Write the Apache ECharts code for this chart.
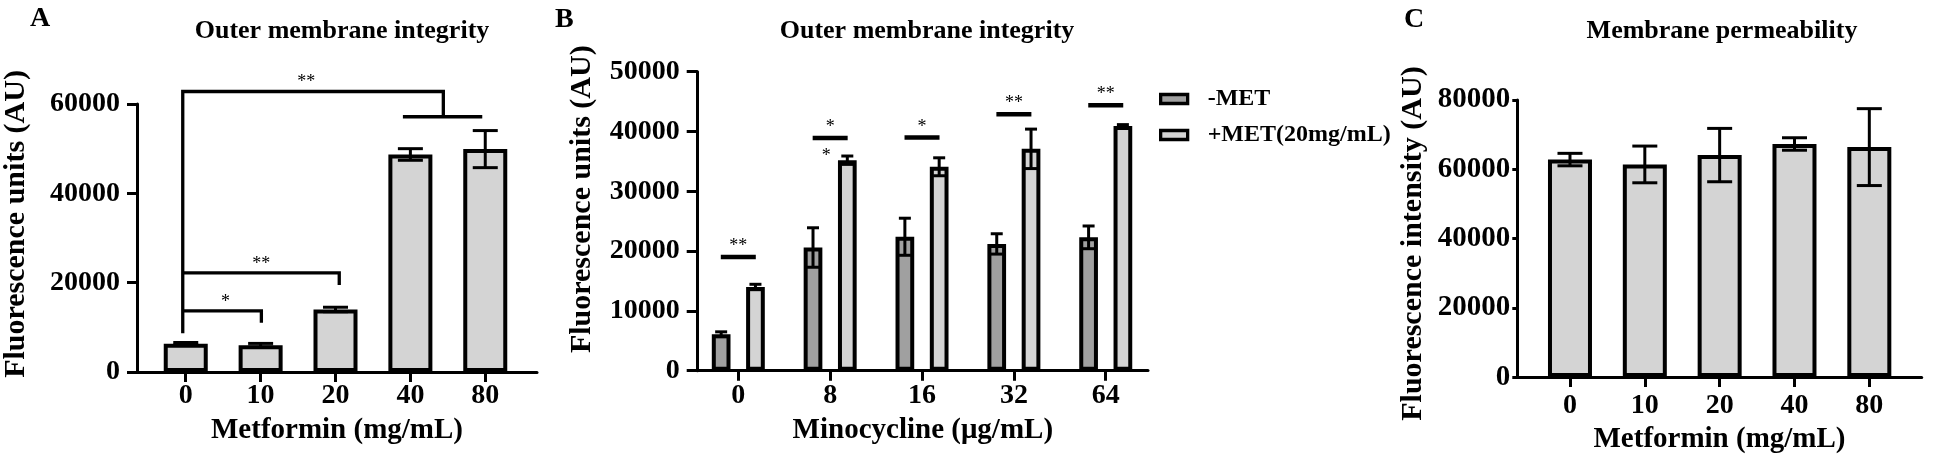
<!DOCTYPE html>
<html><head><meta charset="utf-8">
<script src="https://cdn.jsdelivr.net/npm/echarts@6/dist/echarts.min.js"></script>
<style>html,body{margin:0;padding:0;background:#fff}#c{width:1944px;height:459px}</style>
</head><body><div id="c"></div><script>
// ---------- data ----------
const catsA = ['0', '10', '20', '40', '80'];
const meanA = [6300, 6000, 14000, 48700, 49900];
const errA  = [300, 400, 500, 1300, 4150];

const catsB = ['0', '8', '16', '32', '64'];
const namesB = ['-MET', '+MET(20mg/mL)'];
const meanBminus = [6100, 20600, 22400, 21200, 22300];
const errBminus  = [400, 3300, 3100, 1700, 1900];
const meanBplus  = [14000, 35200, 34100, 37100, 40900];
const errBplus   = [450, 700, 1500, 3300, 250];

const catsC = ['0', '10', '20', '40', '80'];
const meanC = [62800, 61400, 64100, 67300, 66400];
const errC  = [1800, 5300, 7700, 1800, 11100];

// significance brackets in panel A: [fromIdx, toIdx, level, leftDrop, rightDrop, labelIdx]
const sigA = [[-0.04, 1.01, 13700, 13700, 11000, 0.53], [-0.04, 2.05, 22200, 22200, 19500, 1.01], [-0.04, 3.44, 62800, 8700, 57150, 1.61]];
const sigALabels = ['*', '**', '**'];
const sigASub = [[2.9, 3.96, 57150]];
// significance lines in panel B (level per category)
const sigB = [19000, 38900, 39000, 42900, 44400];
const sigBLabels = ['**', '*', '*', '**', '**'];
const sigBBelow = [[1, '*']];

const titles = ['Outer membrane integrity', 'Outer membrane integrity', 'Membrane permeability'];
const panelLetters = ['A', 'B', 'C'];

// ---------- styling ----------
const FF = "'Liberation Serif', 'Times New Roman', serif";
const BLACK = '#000';
const LIGHT = '#d4d4d4';
const DARK = '#a0a0a0';

const chart = echarts.init(document.getElementById('c'), null, {renderer: 'canvas'});

function xAxis(gi, min, max, cats, name, labelMargin, nameGap) {
  const idx = cats.map((_, i) => i);
  return {
    type: 'value', gridIndex: gi, min: min, max: max, position: 'bottom',
    axisLine: {show: true, onZero: false, lineStyle: {color: BLACK, width: 3}},
    axisTick: {show: true, customValues: idx, length: 10, lineStyle: {color: BLACK, width: 3}},
    axisLabel: {customValues: idx, formatter: v => cats[Math.round(v)], color: BLACK, fontFamily: FF,
      fontWeight: 'bold', fontSize: 28, margin: labelMargin},
    splitLine: {show: false},
    name: name, nameLocation: 'middle', nameGap: nameGap,
    nameTextStyle: {color: BLACK, fontFamily: FF, fontWeight: 'bold', fontSize: 29}
  };
}
function yAxis(gi, max, interval, name, nameGap, pad, tickLen, labelMargin, labelSize) {
  return {
    type: 'value', gridIndex: gi, min: 0, max: max, interval: interval, position: 'left',
    axisLine: {show: true, onZero: false, lineStyle: {color: BLACK, width: 3}},
    axisTick: {show: true, length: tickLen, lineStyle: {color: BLACK, width: 3}},
    axisLabel: {color: BLACK, fontFamily: FF, fontWeight: 'bold', fontSize: labelSize, margin: labelMargin,
      formatter: v => String(v)},
    splitLine: {show: false},
    name: name, nameLocation: 'middle', nameGap: nameGap,
    nameTextStyle: {color: BLACK, fontFamily: FF, fontWeight: 'bold', fontSize: 30, padding: pad}
  };
}
function errorSeries(axisIdx, means, errs, offset, capW) {
  return {
    type: 'custom', xAxisIndex: axisIdx, yAxisIndex: axisIdx, z: 5, silent: true,
    data: means.map((m, i) => [i, m - errs[i], m + errs[i]]),
    encode: {x: 0, y: [1, 2]},
    renderItem: function (params, api) {
      const lo = api.coord([api.value(0), api.value(1)]);
      const hi = api.coord([api.value(0), api.value(2)]);
      const cx = lo[0] + offset, h = capW / 2;
      const st = {stroke: BLACK, lineWidth: 3};
      return {type: 'group', children: [
        {type: 'line', shape: {x1: cx, y1: lo[1], x2: cx, y2: hi[1]}, style: st},
        {type: 'line', shape: {x1: cx - h, y1: hi[1], x2: cx + h, y2: hi[1]}, style: st},
        {type: 'line', shape: {x1: cx - h, y1: lo[1], x2: cx + h, y2: lo[1]}, style: st}
      ]};
    }
  };
}
const starStyle = {fill: BLACK, fontFamily: FF, fontSize: 18, align: 'center', verticalAlign: 'middle'};

const barWB = 18.7, gapB = 15.6;
const offB = (barWB + gapB) / 2;

const option = {
  backgroundColor: '#fff',
  animation: false,
  title: [
    {text: titles[0], left: 337, top: 13, textAlign: 'center', textStyle: {fontFamily: FF, fontWeight: 'bold', fontSize: 26, color: BLACK}},
    {text: titles[1], left: 922, top: 13, textAlign: 'center', textStyle: {fontFamily: FF, fontWeight: 'bold', fontSize: 26, color: BLACK}},
    {text: titles[2], left: 1717, top: 13, textAlign: 'center', textStyle: {fontFamily: FF, fontWeight: 'bold', fontSize: 26, color: BLACK}},
    {text: panelLetters[0], left: 25, top: 0, textStyle: {fontFamily: FF, fontWeight: 'bold', fontSize: 28, color: BLACK}},
    {text: panelLetters[1], left: 550, top: 1, textStyle: {fontFamily: FF, fontWeight: 'bold', fontSize: 28, color: BLACK}},
    {text: panelLetters[2], left: 1399, top: 1, textStyle: {fontFamily: FF, fontWeight: 'bold', fontSize: 28, color: BLACK}}
  ],
  legend: {
    data: namesB, orient: 'vertical', left: 1154, top: 82, icon: 'rect',
    itemWidth: 27, itemHeight: 9, itemGap: 12,
    itemStyle: {borderColor: BLACK, borderWidth: 3.3},
    textStyle: {fontFamily: FF, fontWeight: 'bold', fontSize: 24, color: BLACK, padding: [0, 0, 0, 15]}
  },
  grid: [
    {left: 135, top: 104, width: 402, height: 268},
    {left: 697.7, top: 71.7, width: 450.3, height: 299},
    {left: 1517.3, top: 100, width: 404.4, height: 277.7}
  ],
  xAxis: [
    xAxis(0, -0.651, 4.691, catsA, 'Metformin (mg/mL)', 10, 44),
    xAxis(1, -0.442, 4.46, catsB, 'Minocycline (μg/mL)', 11, 45),
    xAxis(2, -0.704, 4.70, catsC, 'Metformin (mg/mL)', 15, 47)
  ],
  yAxis: [
    yAxis(0, 60000, 20000, 'Fluorescence units (AU)', 106, [0, 0, 0, 28], 10, 17, 28),
    yAxis(1, 50000, 10000, 'Fluorescence units (AU)', 100, [0, 0, 0, 44], 11, 18, 28),
    yAxis(2, 80000, 20000, 'Fluorescence intensity (AU)', 89, [0, 10, 0, 0], 5, 7, 29)
  ],
  series: [
    {type: 'bar', name: 'A', xAxisIndex: 0, yAxisIndex: 0, barWidth: 44,
      data: meanA.map((v, i) => [i, v]),
      itemStyle: {color: LIGHT, borderColor: BLACK, borderWidth: 4}},
    errorSeries(0, meanA, errA, 0, 25),
    {type: 'bar', name: namesB[0], xAxisIndex: 1, yAxisIndex: 1, barWidth: barWB, barGap: (gapB / barWB * 100) + '%',
      data: meanBminus.map((v, i) => [i, v]),
      itemStyle: {color: DARK, borderColor: BLACK, borderWidth: 4}},
    {type: 'bar', name: namesB[1], xAxisIndex: 1, yAxisIndex: 1, barWidth: barWB, barGap: (gapB / barWB * 100) + '%',
      data: meanBplus.map((v, i) => [i, v]),
      itemStyle: {color: LIGHT, borderColor: BLACK, borderWidth: 4}},
    errorSeries(1, meanBminus, errBminus, -offB, 12),
    errorSeries(1, meanBplus, errBplus, offB, 12),
    {type: 'bar', name: 'C', xAxisIndex: 2, yAxisIndex: 2, barWidth: 44,
      data: meanC.map((v, i) => [i, v]),
      itemStyle: {color: LIGHT, borderColor: BLACK, borderWidth: 4}},
    errorSeries(2, meanC, errC, 0, 25),
    // panel A brackets
    {type: 'custom', xAxisIndex: 0, yAxisIndex: 0, z: 6, silent: true, data: sigA,
      encode: {x: [0, 1], y: [2, 3, 4]},
      renderItem: function (params, api) {
        const a = api.coord([api.value(0), api.value(3)]);
        const b = api.coord([api.value(0), api.value(2)]);
        const c = api.coord([api.value(1), api.value(2)]);
        const d = api.coord([api.value(1), api.value(4)]);
        const t = api.coord([api.value(5), api.value(2)]);
        return {type: 'group', children: [
          {type: 'polyline', shape: {points: [a, b, c, d]}, style: {stroke: BLACK, lineWidth: 3.3, fill: null}},
          {type: 'text', x: t[0], y: t[1] - 9, style: Object.assign({text: sigALabels[params.dataIndex]}, starStyle)}
        ]};
      }},
    {type: 'custom', xAxisIndex: 0, yAxisIndex: 0, z: 6, silent: true, data: sigASub,
      encode: {x: [0, 1], y: 2},
      renderItem: function (params, api) {
        const a = api.coord([api.value(0), api.value(2)]);
        const b = api.coord([api.value(1), api.value(2)]);
        return {type: 'line', shape: {x1: a[0], y1: a[1], x2: b[0], y2: b[1]}, style: {stroke: BLACK, lineWidth: 3.3}};
      }},
    // panel B significance lines
    {type: 'custom', xAxisIndex: 1, yAxisIndex: 1, z: 6, silent: true, data: sigB.map((v, i) => [i, v]),
      encode: {x: 0, y: 1},
      renderItem: function (params, api) {
        const p = api.coord([api.value(0), api.value(1)]);
        const kids = [
          {type: 'line', shape: {x1: p[0] - 17.5, y1: p[1], x2: p[0] + 17.5, y2: p[1]}, style: {stroke: BLACK, lineWidth: 4.5}},
          {type: 'text', x: p[0], y: p[1] - 10.5, style: Object.assign({text: sigBLabels[params.dataIndex]}, starStyle)}
        ];
        sigBBelow.forEach(s => {
          if (s[0] === params.dataIndex) {
            kids.push({type: 'text', x: p[0] - 4, y: p[1] + 18, style: Object.assign({text: s[1]}, starStyle)});
          }
        });
        return {type: 'group', children: kids};
      }}
  ]
};
chart.setOption(option);
</script></body></html>
